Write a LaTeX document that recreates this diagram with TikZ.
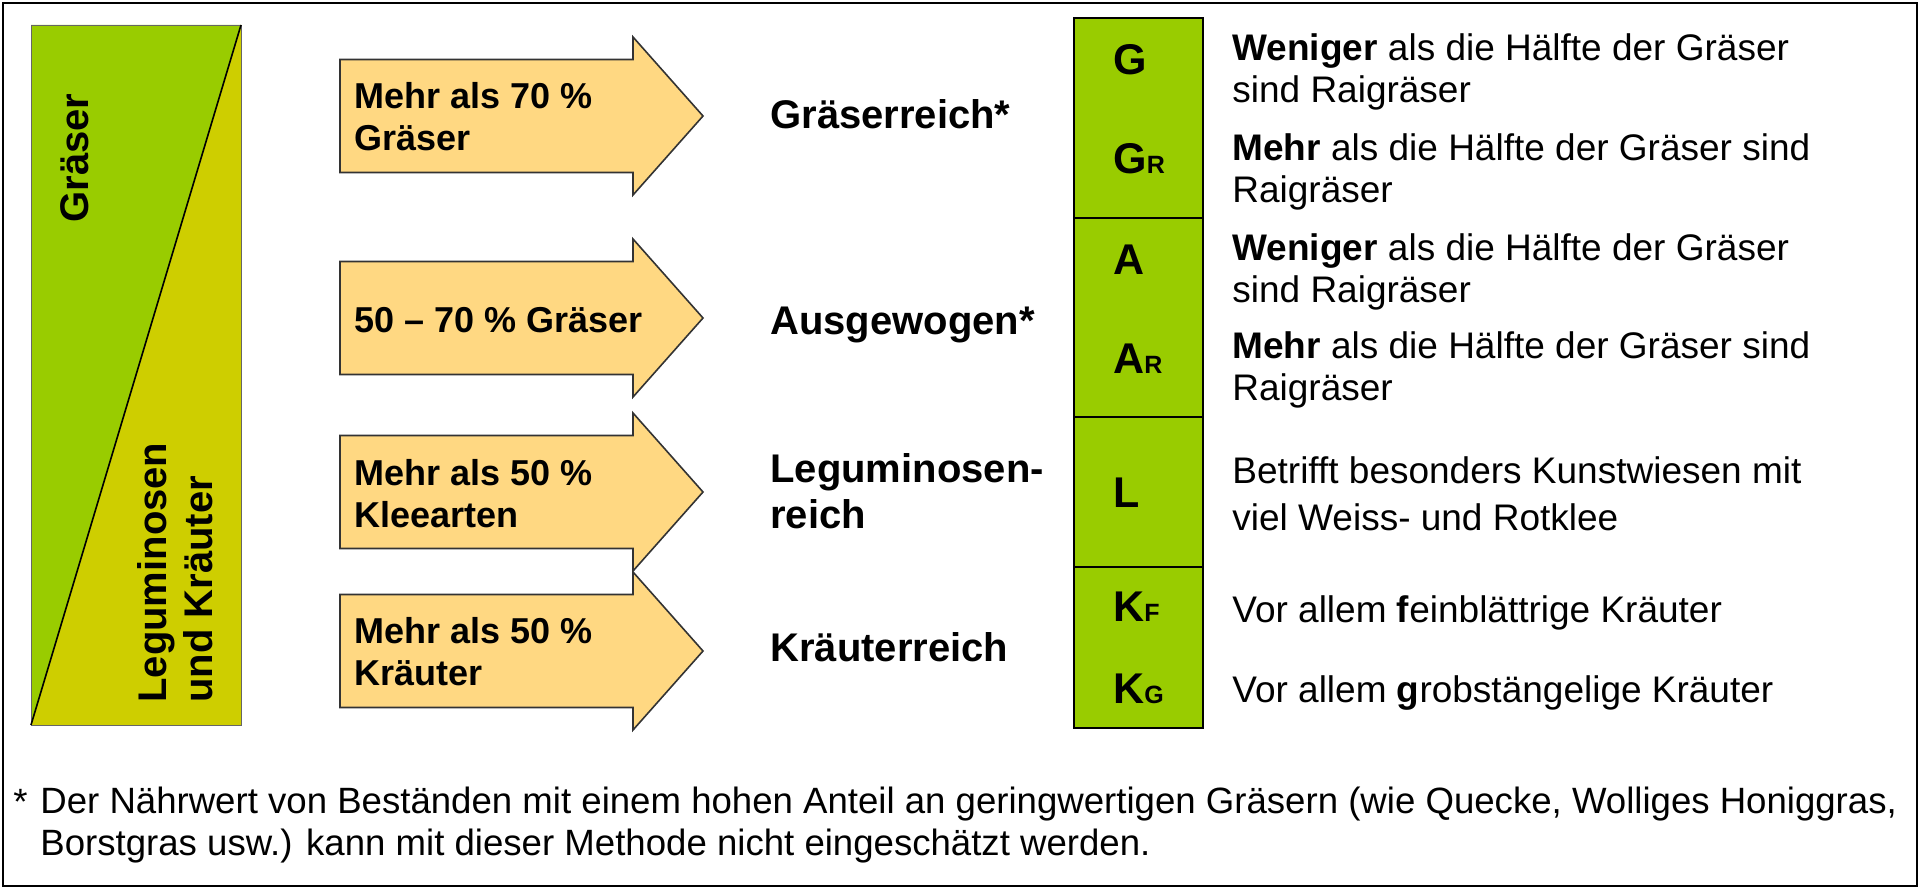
\documentclass[tikz,border=0pt]{standalone}
\usepackage{fontspec}
\setmainfont{Liberation Sans}
\definecolor{gras}{RGB}{153,204,0}
\definecolor{kraut}{RGB}{206,206,0}
\definecolor{pfeilfarbe}{RGB}{255,216,130}
\newcommand\idx[1]{{\fontsize{12.5}{15}\selectfont #1}}
\begin{document}
\begin{tikzpicture}[x=0.5pt,y=-0.5pt,
    pfeil/.style={fill=pfeilfarbe,draw=black!80,line width=0.8pt},
    pfeiltext/.style={anchor=north west,inner sep=0pt,align=left,font=\fontsize{18}{21}\selectfont\bfseries},
    gruppe/.style={anchor=base west,inner sep=0pt,align=left,font=\fontsize{20}{23}\selectfont\bfseries},
    kuerzel/.style={anchor=base west,inner sep=0pt,font=\fontsize{21.5}{25}\selectfont\bfseries},
    erkl/.style={anchor=north west,inner sep=0pt,align=left,font=\fontsize{18.5}{21}\selectfont}]
  \useasboundingbox (0,0) rectangle (1920,888);
  \draw[line width=1pt] (3,3) rectangle (1917,886);

  % Dreieck links
  \coordinate (ol) at (31,25);
  \coordinate (or) at (241,25);
  \coordinate (ul) at (31,725);
  \coordinate (ur) at (241,725);
  \fill[gras] (ol) -- (or) -- (ul) -- cycle;
  \fill[kraut] (or) -- (ur) -- (ul) -- cycle;
  \draw[black!60,line width=0.4pt] (ol) rectangle (ur);
  \draw[line width=0.8pt] (ul) -- (or);
  \node[rotate=90,anchor=base,inner sep=0pt,font=\fontsize{20}{23}\selectfont\bfseries] (graeser) at (88,158) {Gräser};
  \node[rotate=90,anchor=south west,inner sep=0pt,align=left,font=\fontsize{20}{23}\selectfont\bfseries] (legum) at (213,703) {Leguminosen\\und Kräuter};

  % Pfeile
  \foreach \m in {116,318,492,651}
    \draw[pfeil] (340,\m-56.5) -- (633,\m-56.5) -- (633,\m-79) -- (703,\m)
      -- (633,\m+79) -- (633,\m+56.5) -- (340,\m+56.5) -- cycle;
  \node[pfeiltext] (p1) at (354,82) {Mehr als 70 \%\\Gräser};
  \node[pfeiltext] (p2) at (354,307) {50 – 70 \% Gräser};
  \node[pfeiltext] (p3) at (354,459) {Mehr als 50 \%\\Kleearten};
  \node[pfeiltext] (p4) at (354,617) {Mehr als 50 \%\\Kräuter};

  % Bestandestypen
  \node[gruppe] (g1) at (770,128) {Gräserreich*};
  \node[gruppe] (g2) at (770,334) {Ausgewogen*};
  \node[gruppe,anchor=north west] (g3) at (770,453) {Leguminosen-\\reich};
  \node[gruppe] (g4) at (770,661) {Kräuterreich};

  % Kuerzel
  \draw[fill=gras,line width=0.8pt] (1074,18) rectangle (1203,728);
  \foreach \t in {218,417,567}
    \draw[line width=0.8pt] (1074,\t) -- (1203,\t);
  \node[kuerzel] (G) at (1113,75) {G};
  \node[kuerzel] (GR) at (1113,173) {G\idx{R}};
  \node[kuerzel] (A) at (1113,274) {A};
  \node[kuerzel] (AR) at (1113,373) {A\idx{R}};
  \node[kuerzel] (L) at (1113,507) {L};
  \node[kuerzel] (KF) at (1113,621) {K\idx{F}};
  \node[kuerzel] (KG) at (1113,703) {K\idx{G}};

  % Erklaerungen
  \node[erkl] (eG) at (1232,33) {\textbf{Weniger} als die Hälfte der Gräser\\sind Raigräser};
  \node[erkl] (eGR) at (1232,133) {\textbf{Mehr} als die Hälfte der Gräser sind\\Raigräser};
  \node[erkl] (eA) at (1232,233) {\textbf{Weniger} als die Hälfte der Gräser\\sind Raigräser};
  \node[erkl] (eAR) at (1232,331) {\textbf{Mehr} als die Hälfte der Gräser sind\\Raigräser};
  \node[erkl] (eL) at (1232,456) {Betrifft besonders Kunstwiesen mit\\[2.5pt]viel Weiss- und Rotklee};
  \node[erkl,anchor=base west] (eKF) at (1232,622) {Vor allem \textbf{f}einblättrige Kräuter};
  \node[erkl,anchor=base west] (eKG) at (1232,702) {Vor allem \textbf{g}robstängelige Kräuter};

  % Fussnote
  \node[anchor=base west,inner sep=0pt,font=\fontsize{18.3}{21}\selectfont] (stern) at (13,814) {*};
  \node[anchor=north west,inner sep=0pt,align=left,font=\fontsize{18.3}{21}\selectfont] (fuss) at (40,787)
    {Der Nährwert von Beständen mit einem hohen Anteil an geringwertigen Gräsern (wie Quecke, Wolliges Honiggras,\\Borstgras usw.) kann mit dieser Methode nicht eingeschätzt werden.};
\end{tikzpicture}
\end{document}
